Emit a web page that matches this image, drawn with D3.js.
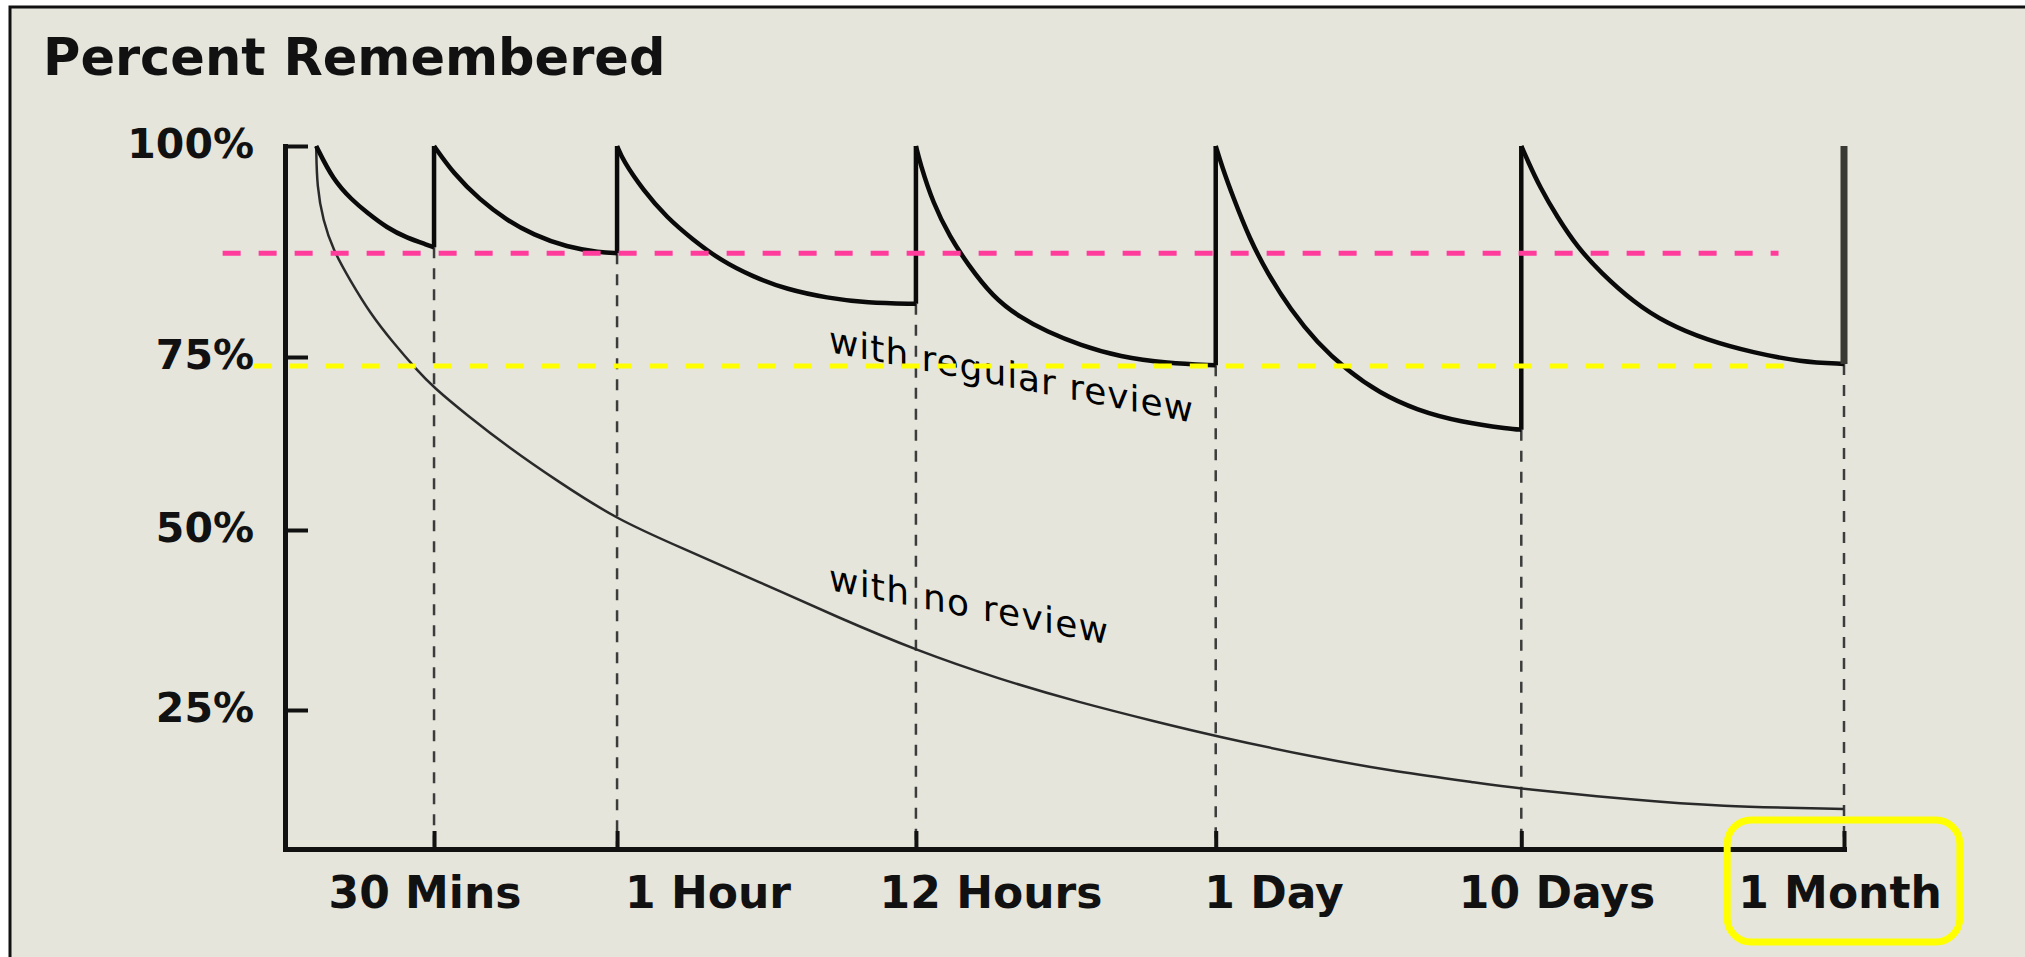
<!DOCTYPE html>
<html>
<head>
<meta charset="utf-8">
<script src="https://cdn.jsdelivr.net/npm/d3@7"></script>
<style>
	html,body{margin:0;padding:0;background:#fff;}
	svg{display:block;}
	text{font-family:'DejaVu Sans',Verdana,sans-serif;fill:#111;}
</style>
</head>
<body>
<svg id="chart" width="2025" height="957"></svg>
<script>
//review moments on the time axis (position 0-100 along the drawn axis, the picture is not to scale in time)
const reviewLabels = ['30 Mins','1 Hour','12 Hours','1 Day','10 Days','1 Month'];
const reviewAt = [9.56,21.3,40.47,59.7,79.3,100];
const yTicks = [25,50,75,100];

//forgetting curve with no review: [axis position, percent remembered]
const noReview = [[2.0,100],[2.05,95.1],[2.44,91.2],[3.08,87.7],[4.17,84.1],[5.45,80.2],[6.93,76.7],[8.47,73.1],
	[9.49,70.7],[11.67,66.6],[14.43,61.8],[17.45,57.1],[21.3,51.5],[25.34,47.6],[30.4,42.8],[35.54,37.8],
	[40.47,33.3],[45.8,29.3],[50.87,26.1],[56.0,22.8],[59.7,20.3],[66.2,16.4],[71.3,13.9],[76.5,11.9],
	[79.3,10.8],[86.7,8.8],[91.8,7.7],[100,7.2]];

//with regular review: one decay piece per interval, each ends at a review
const regular1 = [[2.0,100],[3.08,96.0],[4.30,93.6],[5.26,92.1],[6.54,90.3],[7.83,89.1],[9.11,88.3],[9.56,88.0]];
const regular2 = [[9.56,100],[10.78,96.8],[12.51,93.6],[14.24,91.2],[15.91,89.5],[18.09,88.0],[20.2,87.4],[21.3,87.3]];
const regular3 = [[21.3,100],[21.68,98.3],[22.96,94.8],[24.5,91.5],[26.17,88.9],[27.9,86.5],[30.02,84.5],[32.2,83.0],
	[34.77,82.0],[37.33,81.4],[40.47,81.3]];
const regular4 = [[40.47,100],[40.73,98.0],[41.57,93.2],[42.66,89.2],[43.75,86.1],[45.41,82.1],[47.15,79.7],[48.88,78.0],
	[51.0,76.4],[53.56,75.0],[56.57,74.1],[59.7,73.8]];
const regular5 = [[59.7,100],[60.1,97.6],[60.8,94.0],[61.9,88.9],[63.0,85.0],[64.5,80.6],[66.2,76.7],[68.1,73.1],
	[70.2,69.8],[72.6,67.3],[75.4,65.6],[78.6,64.6],[79.3,64.5]];
const regular6 = [[79.3,100],[79.7,98.3],[80.5,95.1],[81.6,91.6],[82.9,88.0],[84.4,85.0],[86.5,81.5],[88.6,79.0],
	[91.2,77.0],[94.2,75.5],[97.2,74.3],[100,74.0]];
const withReview = [regular1,regular2,regular3,regular4,regular5,regular6];

//highlight levels drawn over the chart (percent, axis start, axis end)
const guideLevels = [87.3,73.7];
const guideFrom = [-4.0,-2.0];
const guideTo = [95.8,96.1];

const W = 2025, H = 957;
const guideColors = ['#ff3c9c','#ffff00'];

//scales: the drawn y axis is not evenly spaced, hence a piecewise scale
const x = d3.scaleLinear().domain([0,100]).range([285,1844]);
const y = d3.scaleLinear().domain([0,25,50,75,100]).range([849,710,530,357,146]);
const xLabel = d3.scalePoint().domain(reviewLabels).range([425,1840]);

const line = d3.line()
	.x(d=>x(d[0]))
	.y(d=>y(d[1]))
	.curve(d3.curveBasis);

const svg = d3.select('#chart');

//panel
svg.append('rect')
	.attr('x',10).attr('y',7)
	.attr('width',W+20).attr('height',H+20)
	.style('fill','#e5e5dc')
	.style('stroke','#111')
	.style('stroke-width',3);

svg.append('text')
	.attr('x',43).attr('y',75)
	.text('Percent Remembered')
	.style('font-size','51px')
	.style('font-weight','bold');

//dashed drops from each review down to the axis
svg.append('g').attr('class','drops')
	.selectAll('line')
	.data(reviewAt)
	.enter()
	.append('line')
	.attr('x1',d=>x(d)).attr('x2',d=>x(d))
	.attr('y1',(d,i)=>y(withReview[i][withReview[i].length-1][1]))
	.attr('y2',y(0))
	.style('stroke','#3c3c3c')
	.style('stroke-width',2.5)
	.style('stroke-dasharray','11,10');

//axes
svg.append('g').attr('class','axis y')
	.attr('transform',`translate(${x(0)},0)`)
	.call(d3.axisLeft(y).tickValues(yTicks).tickSizeInner(-23).tickSizeOuter(0).tickPadding(31).tickFormat(d=>d+'%'))
	.call(g=>{
		g.select('.domain').style('stroke','#111').style('stroke-width',5).style('stroke-linecap','square');
		g.selectAll('.tick line').style('stroke','#111').style('stroke-width',4);
		g.selectAll('.tick text')
			.attr('dy','0.27em')
			.style('font-size','41px')
			.style('font-weight','bold')
			.style('font-family',"'DejaVu Sans',Verdana,sans-serif")
			.style('fill','#111');
	});

svg.append('g').attr('class','axis x')
	.attr('transform',`translate(0,${y(0)})`)
	.call(d3.axisBottom(x).tickValues(reviewAt).tickSizeInner(-18).tickSizeOuter(0).tickFormat(''))
	.call(g=>{
		g.select('.domain').style('stroke','#111').style('stroke-width',5).style('stroke-linecap','square');
		g.selectAll('.tick line').style('stroke','#111').style('stroke-width',4);
	});

const xLabels = svg.append('g').attr('class','x-labels')
	.selectAll('text')
	.data(reviewLabels)
	.enter()
	.append('text')
	.attr('x',d=>xLabel(d))
	.attr('y',908)
	.attr('text-anchor','middle')
	.text(d=>d)
	.style('font-size','44px')
	.style('font-weight','bold');

//curves
svg.append('path')
	.datum(noReview)
	.attr('class','no-review')
	.attr('d',line)
	.style('fill','none')
	.style('stroke','#2a2a2a')
	.style('stroke-width',2.5);

svg.append('g').attr('class','with-review')
	.selectAll('path')
	.data(withReview)
	.enter()
	.append('path')
	.attr('d',line)
	.style('fill','none')
	.style('stroke','#0a0a0a')
	.style('stroke-width',4.5)
	.style('stroke-linejoin','round');

//jump back to 100% at every review
svg.append('g').attr('class','jumps')
	.selectAll('line')
	.data(reviewAt)
	.enter()
	.append('line')
	.attr('x1',d=>x(d)).attr('x2',d=>x(d))
	.attr('y1',(d,i)=>y(withReview[i][withReview[i].length-1][1]))
	.attr('y2',y(100))
	.style('stroke',(d,i)=>i===reviewAt.length-1?'#3a3a35':'#0a0a0a')
	.style('stroke-width',(d,i)=>i===reviewAt.length-1?7:4.5);

//curve labels
svg.append('text')
	.attr('transform','translate(829,352) skewY(11)')
	.attr('textLength',364)
	.text('with regular review')
	.style('font-size','36px')
	.style('fill','#000');

svg.append('text')
	.attr('transform','translate(829,590) skewY(11)')
	.attr('textLength',279)
	.text('with no review')
	.style('font-size','36px')
	.style('fill','#000');

//highlight guides
svg.append('g').attr('class','guides')
	.selectAll('line')
	.data(guideLevels)
	.enter()
	.append('line')
	.attr('x1',(d,i)=>x(guideFrom[i]))
	.attr('x2',(d,i)=>x(guideTo[i]))
	.attr('y1',d=>y(d)).attr('y2',d=>y(d))
	.style('stroke',(d,i)=>guideColors[i])
	.style('stroke-width',5)
	.style('stroke-dasharray','18,18');

//box round the last label
const lastBox = xLabels.filter(d=>d===reviewLabels[reviewLabels.length-1]).node().getBBox();
svg.append('rect')
	.attr('x',lastBox.x-11)
	.attr('y',lastBox.y-47)
	.attr('width',lastBox.width+29)
	.attr('height',lastBox.height+71)
	.attr('rx',24)
	.style('fill','none')
	.style('stroke','#ffff00')
	.style('stroke-width',7);
</script>
</body>
</html>
